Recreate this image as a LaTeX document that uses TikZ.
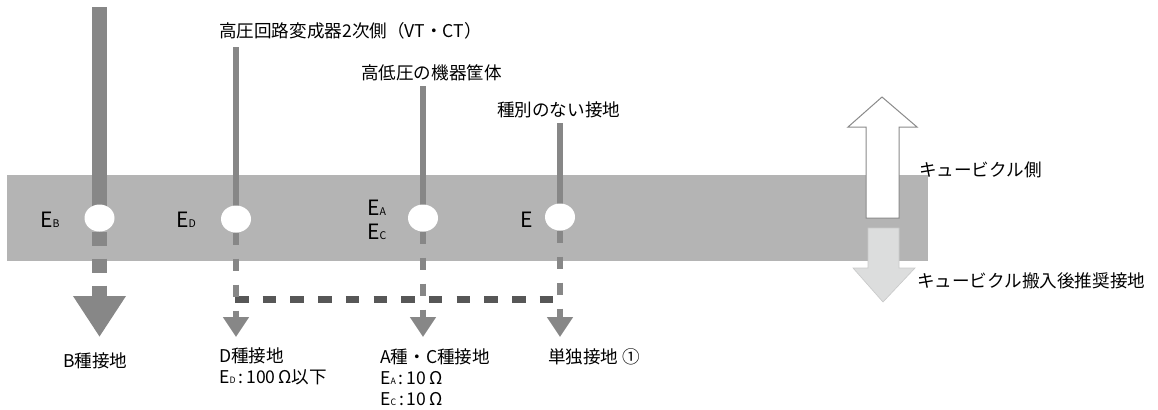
\documentclass[tikz,border=0pt]{standalone}
\usepackage{fontspec}
\setmainfont{Noto Sans CJK JP}
\definecolor{bandcol}{HTML}{B4B4B4}
\definecolor{wirecol}{HTML}{878787}
\definecolor{linkcol}{HTML}{575757}
\definecolor{downcol}{HTML}{DCDDDD}
\definecolor{upcol}{HTML}{8A8A8A}
\usetikzlibrary{arrows.meta,shapes.geometric}
\newcommand{\subl}[1]{{\fontsize{9}{9}\selectfont #1}}
\newcommand{\subs}[1]{{\fontsize{7.5}{7.5}\selectfont #1}}

\begin{document}
\begin{tikzpicture}[x=0.03cm, y=-0.03cm,
  txt/.style={inner sep=0pt, anchor=west, font=\fontsize{15}{18}\selectfont},
  txtbox/.style={txt, anchor=north west, align=left},
  elbl/.style={inner sep=0pt, anchor=west, font=\fontsize{18}{20}\selectfont},
  hole/.style={ellipse, fill=white, inner sep=0pt, minimum width=0.9cm, minimum height=0.81cm},
  wire/.style={wirecol, line width=0.18cm},
  mainwire/.style={wirecol, line width=0.45cm},
  dropwire/.style={wire, dash pattern=on 0.36cm off 0.42cm, -{Triangle[width=0.75cm, length=0.6cm]}},
  maindrop/.style={mainwire, dash pattern=on 0.42cm off 0.39cm, -{Triangle[width=1.5cm, length=1.23cm]}},
  link/.style={linkcol, line width=0.21cm, dash pattern=on 0.405cm off 0.426cm}]
\useasboundingbox (0,0) rectangle (1158,409);

% --- band (ground level) ---
\fill[bandcol] (7,175) rectangle (928,261);

% --- earthing points ---
\coordinate (tB) at (99.5,7);   \coordinate (gB) at (99.5,218); \coordinate (aB) at (99.5,337);
\coordinate (tD) at (236,47);   \coordinate (gD) at (236,219);  \coordinate (aD) at (236,337);
\coordinate (tA) at (423,86);   \coordinate (gA) at (423,218);  \coordinate (aA) at (423,337);
\coordinate (tE) at (560,123);  \coordinate (gE) at (560,217);  \coordinate (aE) at (560,337);
\coordinate (jD) at (235,299);  \coordinate (jE) at (553,299);

\draw[mainwire] (tB) -- (gB);
\draw[wire] (tD) -- (gD);
\draw[wire] (tA) -- (gA);
\draw[wire] (tE) -- (gE);

\node[hole] (hB) at (gB) {};
\node[hole] (hD) at (gD) {};
\node[hole] (hA) at (gA) {};
\node[hole] (hE) at (gE) {};

% recommended common earthing after installation
\draw[link] (jD) -- (jE);

\draw[maindrop] (hB.south) -- (aB);
\draw[dropwire] (hD.south) -- (aD);
\draw[dropwire] (hA.south) -- (aA);
\draw[dropwire] (hE.south) -- (aE);

% --- point labels ---
\node[elbl] (lB) at (40,220) {E\subl{B}};
\node[elbl] (lD) at (176,220) {E\subl{D}};
\node[elbl] (lA) at (367,208) {E\subl{A}};
\node[elbl] (lC) at (367,232) {E\subl{C}};
\node[elbl] (lE) at (520,220) {E};

% --- top labels ---
\node[txt] (srcD) at (219,31) {高圧回路変成器2次側（VT・CT）};
\node[txt] (srcA) at (361,73) {高低圧の機器筐体};
\node[txt] (srcE) at (497,110) {種別のない接地};

% --- bottom labels ---
\node[txt] (kindB) at (63,361) {B種接地};
\node[txtbox] (kindD) at (219,347) {D種接地\\E\subs{D}\,:\,100\,Ω以下};
\node[txtbox] (kindA) at (380,348) {A種・C種接地\\E\subs{A}\,:\,10\,Ω\\E\subs{C}\,:\,10\,Ω};
\node[txt] (kindE) at (548,357) {単独接地 ①};

% --- side arrows ---
\filldraw[fill=white, draw=upcol, line width=0.03cm]
  (866,218) -- (866,127) -- (848,127) -- (882,97) -- (917,127) -- (899,127) -- (899,218) -- cycle;
\filldraw[fill=downcol, draw=downcol!80!gray, line width=0.02cm]
  (868,228) -- (899,228) -- (899,268) -- (915,268) -- (883,302) -- (853,268) -- (868,268) -- cycle;

\node[txt] (side) at (919,170) {キュービクル側};
\node[txt] (after) at (917,281) {キュービクル搬入後推奨接地};

\end{tikzpicture}
\end{document}
